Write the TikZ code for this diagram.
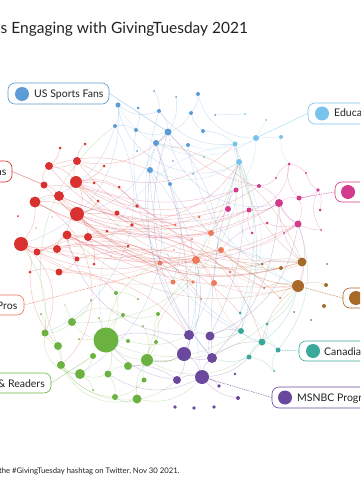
\documentclass[tikz,border=0pt]{standalone}
\usepackage{fontspec}
\setmainfont{Lato}
\usetikzlibrary{backgrounds}
\definecolor{cB}{RGB}{91,155,214}
\definecolor{cLB}{RGB}{120,195,235}
\definecolor{cR}{RGB}{217,48,48}
\definecolor{cP}{RGB}{210,58,140}
\definecolor{cO}{RGB}{238,120,90}
\definecolor{cBr}{RGB}{168,106,40}
\definecolor{cG}{RGB}{108,178,64}
\definecolor{cT}{RGB}{58,168,155}
\definecolor{cU}{RGB}{106,72,156}
\definecolor{txt}{RGB}{34,34,34}
\tikzset{
  dotn/.style={circle, inner sep=0pt, outer sep=0pt, draw=none},
  ed/.style={line width=0.45pt, draw opacity=0.3},
  lbox/.style={draw, line width=0.6pt, fill=white, rounded corners=7pt, inner sep=0pt},
  lbl/.style={text=txt, font=\fontsize{10.5}{12}\selectfont, inner sep=0pt},
  leader/.style={line width=0.5pt, dash pattern=on 1.5pt off 1pt, draw opacity=0.8},
}
\newcommand\edgeset[2]{%
  \foreach \a/\b/\c in {#2} {%
    \pgfmathsetmacro\cc{1.9*\c}%
    \draw[ed, #1] (\a) to[bend left=\cc] (\b);
  }%
}
\begin{document}
\begin{tikzpicture}[x=1pt, y=-1pt]
\useasboundingbox (0,0) rectangle (360,500);
\clip (0,0) rectangle (360,500);

% ---------- nodes ----------
\foreach \n/\x/\y/\r in {b1/118/105/2.5, b2/138/108/1.5, b3/159/111/2, b4/154/91/1, b5/176/97/1, b6/115/126/2, b7/136/130/2, b8/168/132/3.5, b9/156/143/3, b10/137/151/1, b11/173/161/0.8, b12/150/170/3, b13/170/184/2, b14/198/94/2, b15/191/113/2, b16/215/115/1, b17/203/131/2, b18/188/145/2, b19/204/157/0.8, b20/193/174/0.8}
  \node[dotn, fill=cB, minimum size={2*\r*1pt}] (\n) at (\x,\y) {};
\foreach \n/\x/\y/\r in {lb1/256/138/3, lb2/281/137/2, lb3/235/144/2.5, lb4/239/162/3, lb5/245/114/1, lb6/266/120/1}
  \node[dotn, fill=cLB, minimum size={2*\r*1pt}] (\n) at (\x,\y) {};
\foreach \n/\x/\y/\r in {p1/236/190/2.5, p2/259/186/2, p3/289/164/1.5, p4/276/178/1.2, p5/306/173/1.2, p6/318/190/1.8, p7/279/203/4, p8/299/198/2.5, p9/320/210/1.5, p10/249/210/2.5, p11/267/223/1.5, p12/298/224/3.5, p13/321/230/1, p14/284/233/1, p15/252/233/1.5, p16/228/209/3}
  \node[dotn, fill=cP, minimum size={2*\r*1pt}] (\n) at (\x,\y) {};
\foreach \n/\x/\y/\r in {o1/199/217/1.5, o2/175/225/1.5, o3/211/233/3, o4/192/239/1.2, o5/221/250/3, o6/174/250/0.8, o7/160/263/2.5, o8/196/260/4, o9/230/272/1.5, o10/173/282/2.5, o11/193/282/1.8, o12/214/283/3, o13/201/299/1}
  \node[dotn, fill=cO, minimum size={2*\r*1pt}] (\n) at (\x,\y) {};
\foreach \n/\x/\y/\r in {r1/60/148/1.5, r2/85/144/1.5, r3/49/166/4, r4/77/161/4, r5/104/166/1.5, r6/44/185/3.5, r7/76/182/6, r8/94/183/1.5, r9/119/187/1.5, r10/59/196/5, r11/35/202/5.5, r12/98/201/1.5, r13/77/214/7, r14/117/213/2.5, r15/18/216/1, r16/52/217/0.7, r17/36/228/0.7, r18/107/231/1.5, r19/67/235/4.5, r20/88/237/4, r21/21/244/7, r22/37/252/3.5, r23/57/249/4, r24/128/246/1.5, r25/77/259/2.5, r26/94/264/1.5, r27/111/256/0.6, r28/30/272/1.5, r29/59/272/3.5, r30/137/206/1.8, r31/132/225/1.8}
  \node[dotn, fill=cR, minimum size={2*\r*1pt}] (\n) at (\x,\y) {};
\foreach \n/\x/\y/\r in {g1/116/293/2, g2/91/300/1, g3/138/299/1, g4/65/305/0.6, g5/41/314/1, g6/123/315/2, g7/158/314/2, g8/99/318/1, g9/72/322/4, g10/143/326/1, g11/45/333/3.5, g12/106/340/12.5, g13/79/339/1, g14/128/341/2, g15/156/342/2, g16/58/346/4, g17/93/356/3, g18/147/360/6, g19/61/365/4, g20/128/366/4, g21/80/374/5, g22/108/374/3.5, g23/144/380/2.5, g24/93/390/1, g25/115/397/3, g26/137/399/4.5}
  \node[dotn, fill=cG, minimum size={2*\r*1pt}] (\n) at (\x,\y) {};
\foreach \n/\x/\y/\r in {u1/189/335/5, u2/210/336/4.5, u3/184/354/7, u4/212/358/5, u5/202/377/7, u6/177/380/4, u7/235/374/1.3, u8/219/386/1.8, u9/238/398/2, u10/175/407/1.8, u11/194/408/1.8, u12/214/407/1.8}
  \node[dotn, fill=cU, minimum size={2*\r*1pt}] (\n) at (\x,\y) {};
\foreach \n/\x/\y/\r in {t1/240/313/1.5, t2/267/324/1.5, t3/241/331/3, t4/262/342/3.5, t5/278/350/2.5, t6/249/357/2.5, t7/274/371/1}
  \node[dotn, fill=cT, minimum size={2*\r*1pt}] (\n) at (\x,\y) {};
\foreach \n/\x/\y/\r in {w1/302/262/4.5, w2/281/268/2, w3/262/264/1.5, w4/327/264/1, w5/298/286/6, w6/264/288/1, w7/326/285/2, w8/280/298/1, w9/324/306/2, w10/294/312/1, w11/311/320/1}
  \node[dotn, fill=cBr, minimum size={2*\r*1pt}] (\n) at (\x,\y) {};

% ---------- edges ----------
\begin{pgfonlayer}{background}
\edgeset{cR}{r3/r7/10, r4/r7/-10, r7/r13/15, r10/r13/-10, r11/r13/10, r13/r19/-10, r13/r20/10, r19/r21/15, r21/r22/-10, r22/r23/10, r19/r23/-15, r6/r10/10, r10/r11/-10, r11/r21/10, r3/r6/-15, r4/r3/10, r7/r8/0, r20/r18/10, r23/r25/-10, r25/r29/10, r29/r28/-10, r21/r28/15, r1/r3/10, r2/r4/-10, r5/r7/10, r9/r7/-10, r12/r13/10, r14/r13/-10, r20/r26/10, r19/r25/-10, r24/r20/10, r30/r7/-15, r31/r19/10, r7/p1/-15, r4/lb3/-20, r13/p10/-10, r13/o3/-8, r10/o8/-12, r19/o5/-10, r20/w1/-12, r21/o7/-10, r11/p7/-15, r7/w3/-10, r13/w2/-15, r6/o12/15, r23/p12/-10, r4/b8/-15, r3/b12/10, r19/w5/-8, r20/o9/12, r22/o10/15, r29/g1/15, r21/g11/20, r28/g16/-10, r11/g19/30, r7/p2/-18, r10/p16/-10, r14/w1/-8, r9/o3/-10, r19/o11/10, r23/t1/15, r13/t4/20, r11/o1/-12, r3/p10/-20, r6/w3/-15, r21/o4/-10, r10/lb4/-25, r4/o2/-10, r22/w8/18, r23/o13/20, r29/u1/12, r25/w6/12}
\edgeset{cB}{b1/b6/10, b1/b3/-15, b6/b7/10, b7/b8/-10, b8/b9/10, b3/b8/10, b8/b12/-10, b12/b13/10, b9/b18/-10, b8/b15/-10, b14/b15/10, b15/b17/-10, b2/b7/10, b12/u3/15, b8/u1/20, b6/g11/25, b1/lb4/-30, b3/lb3/-15, b9/w1/-20, b12/t3/-15, b13/o10/10, b17/lb3/10, b4/b3/10, b5/b8/10, b1/r21/20, b6/r11/15, b8/p7/-25, b7/t4/-20, b14/lb1/-20, b18/w5/-15, b16/lb5/0, b9/r13/15, b12/g21/20, b3/u4/-15}
\edgeset{cLB}{lb1/lb3/10, lb3/lb4/-10, lb1/lb2/0, lb4/t1/15, lb1/p1/10, lb4/u5/-10, lb3/b18/10, lb4/w5/-20, lb1/b1/25, lb2/p3/-10, lb3/g12/-25, lb4/b12/15, lb1/lb6/0, lb4/t5/-15}
\edgeset{cG}{g12/g9/10, g12/g17/-10, g12/g22/10, g12/g20/-10, g12/g14/10, g12/g18/-10, g12/g6/10, g12/g1/-10, g9/g11/10, g11/g16/-10, g16/g19/10, g19/g21/-10, g21/g24/10, g21/g22/-10, g22/g25/10, g25/g26/-15, g26/g18/10, g18/g23/-10, g18/g20/10, g20/g22/-10, g17/g21/10, g6/g7/-10, g7/g18/10, g15/g18/-10, g1/g3/10, g18/u3/-10, g26/u5/-15, g7/lb4/-5, g18/w5/-15, g11/r21/-10, g16/b6/20, g9/lb4/-25, g19/g26/-20, g11/g21/-25, g5/g11/10, g2/g9/10, g8/g12/0, g4/g9/0, g10/g18/10, g13/g12/0, g15/g7/10, g23/g25/10, g12/t3/-15, g16/g25/-20, g9/g6/20, g18/t4/-20, g12/o7/15, g14/u1/-10, g19/u6/-25}
\edgeset{cU}{u1/u3/10, u2/u4/-10, u3/u5/10, u4/u5/-10, u3/u6/10, u5/u8/10, u1/u2/10, u3/u4/-10, u5/u9/-10, u2/lb3/-10, u1/b12/10, u4/b8/15, u3/g18/10, u6/g20/-10, u4/p7/-10, u2/t3/10, u5/t6/-10, u3/o8/-10, u6/u5/10, u1/b9/-5, u4/lb4/5, u3/g12/-15, u5/g22/15, u2/p12/-15, u6/g12/10, u1/r19/20, u4/t4/10}
\edgeset{cT}{t1/t3/10, t3/t4/-10, t4/t5/10, t4/t6/-10, t6/t7/10, t5/t7/-15, t2/t4/10, t4/w5/-10, t3/lb4/-10, t6/u4/10, t5/p12/-15, t1/lb3/-10, t3/u2/10, t2/w5/-10}
\edgeset{cP}{p7/p8/10, p8/p6/-10, p8/p3/15, p3/p4/-10, p3/p5/10, p5/p6/-10, p6/p9/10, p2/p7/10, p7/p12/-10, p12/p11/10, p8/p12/10, p2/p4/-10, p1/p2/10, p10/p7/-10, p13/p6/15, p14/p12/0, p15/p10/10, p16/p1/10, p7/p13/-15, p10/p3/-20, p7/r13/15, p12/r19/15, p1/r7/10, p10/r10/10, p2/b8/10, p16/o3/0, p7/w1/-10, p12/w5/10, p11/o5/-10}
\edgeset{cO}{o3/o8/10, o5/o8/-10, o8/o12/10, o10/o11/10, o1/o3/-10, o7/o8/10, o4/o8/-10, o3/w1/-10, o5/w5/-10, o8/r13/15, o12/t3/-10, o9/w5/-10, o2/r7/15, o7/r21/15, o10/r22/10, o11/g18/-10, o5/p12/-10, o8/r19/10, o3/r14/10, o12/w5/-10, o6/r18/10}
\edgeset{cBr}{w1/w5/10, w2/w1/-10, w3/w1/10, w5/w6/-10, w5/w7/10, w1/b9/-15, w5/o5/10, w5/t4/-10, w1/lb4/10, w2/r7/15, w1/r13/15, w5/r19/15, w3/o8/10, w8/w5/10, w2/o5/10}
\end{pgfonlayer}

% ---------- labels ----------
\node[lbox, draw=cB, minimum width=101pt, minimum height=21pt] (L1) at (58.5,93.5) {};
\node[dotn, fill=cB, minimum size=14pt] (L1c) at (22,94) {};
\node[lbl, anchor=base west] (L1t) at (34,97.5) {US Sports Fans};
\draw[leader, cB, solid, draw opacity=0.5] (L1.east) -- (b8);

\node[lbox, draw=cLB, minimum width=70pt, minimum height=21pt] (L2) at (343,113.5) {};
\node[dotn, fill=cLB, minimum size=14pt] (L2c) at (322,113.5) {};
\node[lbl, anchor=base west] (L2t) at (334,117) {Educa};
\draw[leader, cLB, solid, draw opacity=0.6] (L2.west) -- (lb1);

\node[lbox, draw=cR, minimum width=50pt, minimum height=21pt] (L3) at (-13,171.5) {};
\node[lbl, anchor=base east] (L3t) at (6.5,175) {ns};
\draw[leader, cR, solid, draw opacity=0.6] (L3.east) -- (r6);

\node[lbox, draw=cP, minimum width=50pt, minimum height=20pt] (L4) at (360,192) {};
\node[dotn, fill=cP, minimum size=14pt] (L4c) at (348,192) {};
\draw[leader, cP] (L4.west) -- (p8);

\node[lbox, draw=cO, minimum width=60pt, minimum height=20pt] (L5) at (-6,305) {};
\node[lbl, anchor=base east] (L5t) at (17.5,309) {Pros};
\draw[leader, cO] (L5.east) -- (o8);

\node[lbox, draw=cBr, minimum width=50pt, minimum height=20pt] (L6) at (368,298) {};
\node[dotn, fill=cBr, minimum size=14pt] (L6c) at (356,298) {};
\draw[leader, cBr] (L6.west) -- (w5);

\node[lbox, draw=cG, minimum width=90pt, minimum height=20pt] (L7) at (6,383) {};
\node[lbl, anchor=base east] (L7t) at (45,387) {\& Readers};
\draw[leader, cG, solid, draw opacity=0.5] (L7.east) -- (g17);

\node[lbox, draw=cT, minimum width=90pt, minimum height=20pt] (L8) at (344,351) {};
\node[dotn, fill=cT, minimum size=14pt] (L8c) at (313,351) {};
\node[lbl, anchor=base west] (L8t) at (324,355) {Canadia};
\draw[leader, cT] (L8.west) -- (t5);

\node[lbox, draw=cU, minimum width=120pt, minimum height=21pt] (L9) at (332,397.5) {};
\node[dotn, fill=cU, minimum size=14pt] (L9c) at (285,397.5) {};
\node[lbl, anchor=base west] (L9t) at (297,401) {MSNBC Progre};
\draw[leader, cU] (L9.west) -- (u5);

% ---------- title & footer ----------
\node[text=txt, anchor=base west, inner sep=0pt, font=\fontsize{15.5}{18}\selectfont] (title) at (0.5,34) {s Engaging with GivingTuesday 2021};
\node[text=txt, anchor=base west, inner sep=0pt, font=\fontsize{7.7}{9}\selectfont] (foot) at (-1.2,473) {the \#GivingTuesday hashtag on Twitter, Nov 30 2021.};
\end{tikzpicture}
\end{document}
